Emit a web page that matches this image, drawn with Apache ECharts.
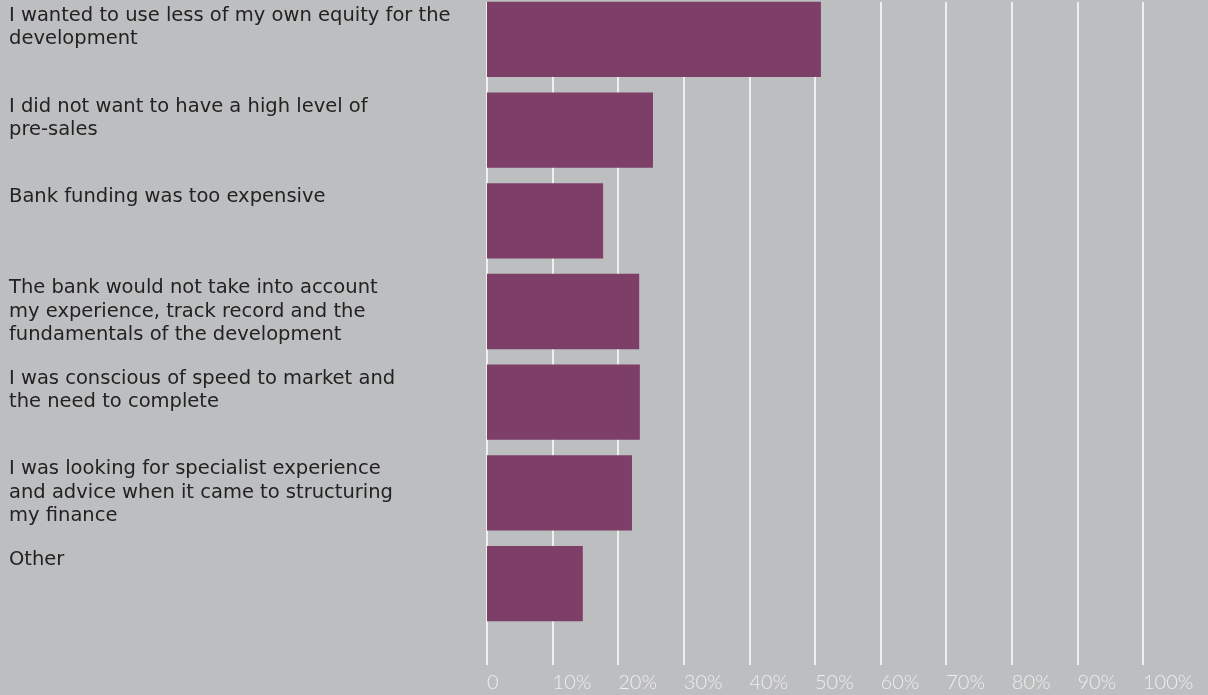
<!DOCTYPE html>
<html>
<head>
<meta charset="utf-8">
<script src="https://cdn.jsdelivr.net/npm/echarts@6/dist/echarts.min.js"></script>
<style>
  html, body { margin: 0; padding: 0; background: #bdbec0; }
  #chart { width: 1208px; height: 695px; }
</style>
</head>
<body>
<div id="chart"></div>
<script>
// Reasons for choosing non-bank development finance (share of respondents, %)
const categories = [
  'I wanted to use less of my own equity for the\ndevelopment',
  'I did not want to have a high level of\npre-sales',
  'Bank funding was too expensive',
  'The bank would not take into account\nmy experience, track record and the\nfundamentals of the development',
  'I was conscious of speed to market and\nthe need to complete',
  'I was looking for specialist experience\nand advice when it came to structuring\nmy finance',
  'Other'
];
const shares = [50.9, 25.3, 17.7, 23.2, 23.3, 22.1, 14.6];
const axisMin = 0;
const axisMax = 100;
const axisStep = 10;

// pad every label to three lines so the first line sits near the top of its bar
function padLines(s) {
  const lines = s.split('\n');
  while (lines.length < 3) lines.push(' ');
  return lines.join('\n');
}

const chart = echarts.init(document.getElementById('chart'));
chart.setOption({
  backgroundColor: '#bdbec0',
  animation: false,
  grid: [
    { left: 487, right: 65, top: 2, height: 663, outerBoundsMode: 'none', containLabel: false },
    { left: 487, right: 65, top: -6, height: 635, outerBoundsMode: 'none', containLabel: false }
  ],
  xAxis: [
    {
      gridIndex: 0, type: 'value', min: axisMin, max: axisMax, interval: axisStep,
      axisLine: { show: false }, axisTick: { show: false },
      splitLine: { show: true, lineStyle: { color: '#ffffff', width: 1.5 } },
      axisLabel: {
        align: 'left', margin: 8, color: '#eeeeee', fontSize: 20,
        fontFamily: 'Lato', fontWeight: 300,
        formatter: v => v === 0 ? '0' : v + '%'
      }
    },
    {
      gridIndex: 1, type: 'value', min: axisMin, max: axisMax, interval: axisStep, show: false
    }
  ],
  yAxis: [
    { gridIndex: 0, type: 'value', show: false },
    {
      gridIndex: 1, type: 'category', data: categories, inverse: true,
      axisLine: { show: false }, axisTick: { show: false },
      axisLabel: {
        align: 'left', verticalAlign: 'middle', margin: 478,
        color: '#222222', fontSize: 19.5, lineHeight: 23.5,
        fontFamily: 'DejaVu Sans',
        padding: [0, 0, 5, 0],
        formatter: padLines
      }
    }
  ],
  series: [
    {
      type: 'bar', xAxisIndex: 1, yAxisIndex: 1, data: shares,
      barCategoryGap: '17%',
      itemStyle: { color: '#7d3e67' }
    }
  ]
});
</script>
</body>
</html>
